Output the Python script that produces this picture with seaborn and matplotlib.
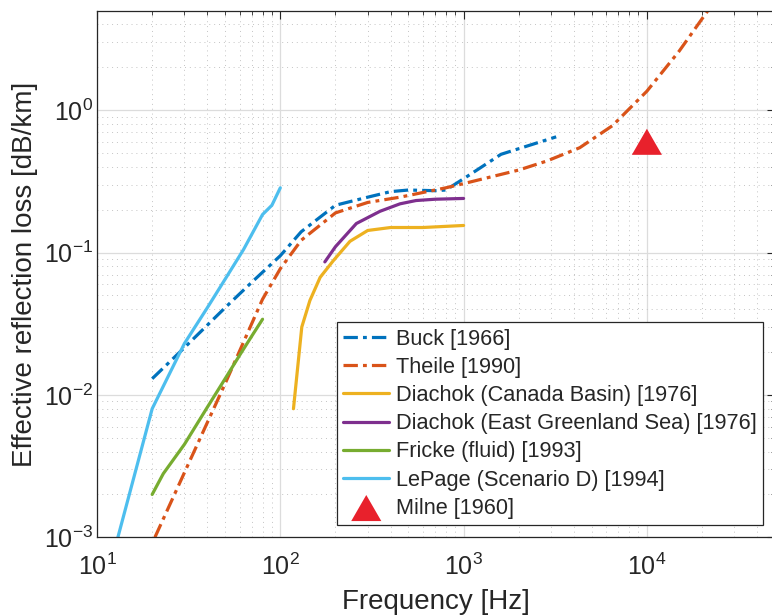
import numpy as np
import pandas as pd
import matplotlib
matplotlib.use("Agg")
import matplotlib.pyplot as plt
import seaborn as sns
from matplotlib.ticker import LogLocator, NullFormatter

# ---- data ----
buck_f = [20, 30, 50, 70, 100, 130, 200, 300, 400, 500, 700, 800, 1000, 1600, 3200]
buck_a = [0.013, 0.0215, 0.041, 0.062, 0.095, 0.14, 0.215, 0.245, 0.268, 0.275, 0.272, 0.275, 0.33, 0.49, 0.65]

theile_f = [20.7, 30, 50, 80, 100, 130, 200, 300, 450, 800, 1000, 2000, 2850, 4300, 6500, 8000, 10000, 15000, 21500, 25000]
theile_a = [0.001, 0.00285, 0.012, 0.047, 0.077, 0.122, 0.19, 0.225, 0.245, 0.285, 0.305, 0.38, 0.44, 0.545, 0.78, 1.02, 1.36, 2.6, 5.0, 6.5]

canada_f = [118, 131, 145, 165, 195, 240, 300, 400, 600, 1000]
canada_a = [0.008, 0.030, 0.046, 0.067, 0.088, 0.12, 0.143, 0.15, 0.15, 0.155]

egs_f = [175, 200, 260, 350, 450, 550, 700, 1000]
egs_a = [0.086, 0.11, 0.16, 0.195, 0.22, 0.232, 0.237, 0.24]

fricke_f = [20, 23, 30, 40, 50, 60, 70, 80]
fricke_a = [0.002, 0.0028, 0.0045, 0.0082, 0.013, 0.019, 0.026, 0.034]

lepage_f = [13, 20, 30, 40, 50, 63, 80, 90, 100]
lepage_a = [0.001, 0.008, 0.023, 0.041, 0.065, 0.105, 0.185, 0.215, 0.285]

milne_f = [10000]
milne_a = [0.6]

labels = ["Buck [1966]", "Theile [1990]", "Diachok (Canada Basin) [1976]",
          "Diachok (East Greenland Sea) [1976]", "Fricke (fluid) [1993]",
          "LePage (Scenario D) [1994]", "Milne [1960]"]
colors = ["#0072BD", "#D95319", "#EDB120", "#7E2F8E", "#77AC30", "#4DBEEE", "#E8212C"]

# ---- style ----
sns.set_theme(style="white")
plt.rcParams["font.family"] = ["Liberation Sans", "DejaVu Sans"]
plt.rcParams["mathtext.fontset"] = "custom"
plt.rcParams["mathtext.rm"] = "Liberation Sans"
plt.rcParams["mathtext.it"] = "Liberation Sans:italic"
plt.rcParams["mathtext.bf"] = "Liberation Sans:bold"

fig = plt.figure(figsize=(7.72, 6.15), dpi=100)
ax = fig.add_axes([97 / 772, (615 - 537.3) / 615, (775 - 97) / 772, (537.3 - 10.7) / 615])

lw = 2.3
dashdot = (0, (4.5, 1.6, 1.2, 1.6))
series = [
    (buck_f, buck_a, dashdot),
    (theile_f, theile_a, dashdot),
    (canada_f, canada_a, "-"),
    (egs_f, egs_a, "-"),
    (fricke_f, fricke_a, "-"),
    (lepage_f, lepage_a, "-"),
]
for (f, a, ls), lab, col in zip(series, labels[:6], colors[:6]):
    df = pd.DataFrame({"f": f, "a": a})
    sns.lineplot(data=df, x="f", y="a", ax=ax, color=col, lw=lw, linestyle=ls,
                 label=lab, estimator=None, sort=False)

tri = [(-1, -0.866), (1, -0.866), (0, 0.866)]
sns.scatterplot(x=milne_f, y=milne_a, ax=ax, marker=tri, s=470, color=colors[6],
                edgecolor="none", label=labels[6], zorder=5)

ax.set_xscale("log")
ax.set_yscale("log")
ax.set_xlim(10, 5e4)
ax.set_ylim(1e-3, 5)

ax.xaxis.set_major_locator(LogLocator(base=10, numticks=10))
ax.xaxis.set_minor_locator(LogLocator(base=10, subs=np.arange(2, 10), numticks=20))
ax.yaxis.set_major_locator(LogLocator(base=10, numticks=10))
ax.yaxis.set_minor_locator(LogLocator(base=10, subs=np.arange(2, 10), numticks=20))
ax.xaxis.set_minor_formatter(NullFormatter())
ax.yaxis.set_minor_formatter(NullFormatter())

ax.grid(True, which="major", color="#DCDCDC", lw=0.9, ls="-")
ax.grid(True, which="minor", color="#C4C4C4", lw=0.7, ls=(0, (1, 4)))
ax.set_axisbelow(True)

ax.tick_params(which="both", direction="in", top=True, right=True, colors="#262626")
ax.tick_params(which="major", length=6, width=0.8, labelsize=18, labelcolor="#262626")
ax.tick_params(which="minor", length=3, width=0.6)
ax.tick_params(axis="x", which="major", pad=12)
ax.tick_params(axis="y", which="major", pad=3)
for sp in ax.spines.values():
    sp.set_color("#262626")
    sp.set_linewidth(0.9)

ax.set_xlabel("Frequency [Hz]", fontsize=20, color="#262626", labelpad=6)
ax.set_ylabel("Effective reflection loss [dB/km]", fontsize=20, color="#262626", labelpad=4)

leg = ax.legend(loc="lower right", bbox_to_anchor=(1 - 12 / 678, 12 / 526.6),
                fontsize=15.7, frameon=True, fancybox=False, handlelength=2.1,
                handletextpad=0.3, borderpad=0.3, labelspacing=0.33,
                borderaxespad=0)
leg.get_frame().set_edgecolor("#262626")
leg.get_frame().set_linewidth(0.9)
leg.get_frame().set_facecolor("white")
leg.get_frame().set_alpha(1)
for t in leg.get_texts():
    t.set_color("#262626")

fig.savefig("out.png", dpi=100)
